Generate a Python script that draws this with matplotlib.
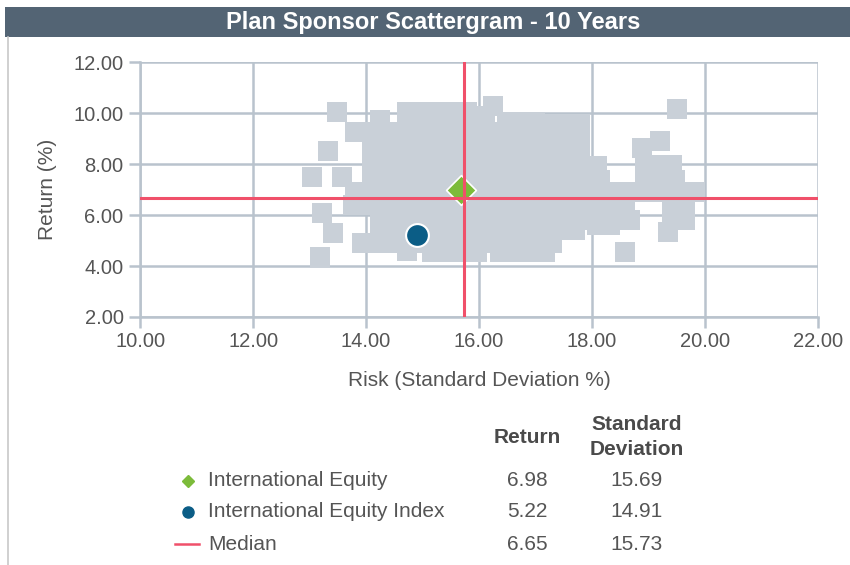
import matplotlib
matplotlib.use("Agg")
import matplotlib.pyplot as plt
from matplotlib.patches import Rectangle
from matplotlib.lines import Line2D

plt.rcParams['font.family'] = ['Liberation Sans', 'DejaVu Sans']

# plan sponsor universe (risk = std dev %, return %)
universe_risk = [
    16.25, 19.50,
    13.49, 14.73, 15.08, 15.43, 15.79, 14.25,
    15.96, 16.11,
    16.50, 16.76, 16.99,
    17.26, 17.52, 17.79,
    13.81, 14.11, 14.37, 14.64, 14.90, 15.17, 15.43, 15.70, 15.96, 16.25,
    16.50, 16.76, 17.03, 17.29, 17.56, 17.79,
    19.20, 18.88,
    14.11, 14.37, 14.64, 14.90, 15.17, 15.43, 15.70, 15.96, 16.25, 16.50,
    16.76, 17.03, 17.29, 17.56, 17.79,
    13.33,
    14.11, 14.37, 14.64, 14.90, 15.17, 15.43, 15.70, 15.96, 16.25, 16.50,
    16.76, 17.03, 17.29, 17.56, 17.79, 18.09, 18.94, 19.20, 19.42,
    13.04, 13.58,
    14.11, 14.37, 14.64, 14.90, 15.17, 15.43, 15.70, 15.96, 16.25, 16.50,
    16.76, 17.03, 17.29, 17.56, 17.79, 18.14, 18.94, 19.20, 19.47,
    13.81, 14.11, 14.37, 14.64, 14.90, 15.17, 15.43, 15.70, 15.96, 16.25,
    16.50, 16.76, 17.03, 17.29, 17.56, 17.79, 18.09, 18.32, 18.58, 18.88,
    19.15, 19.42, 19.65, 19.82,
    13.77, 14.11, 14.37, 14.64, 14.90, 15.17, 15.43, 15.70, 15.96, 16.25,
    16.50, 16.76, 17.03, 17.29, 17.56, 17.79, 18.09, 18.32, 18.58, 19.42, 19.65,
    13.22,
    14.25, 14.51, 14.78, 15.04, 15.31, 15.58, 15.84, 16.11, 16.37, 16.64,
    16.90, 17.17, 17.43, 17.70, 17.96, 18.23, 18.50, 18.67, 19.42, 19.65,
    14.25, 14.51, 14.78, 15.04, 15.31, 15.58, 15.84, 16.11, 16.37, 16.64,
    16.90, 17.17, 17.43, 17.70, 18.09, 18.32, 19.35,
    13.42,
    13.93, 14.11, 14.37, 14.64, 14.90, 15.17, 15.43, 15.70, 15.96, 16.25,
    16.50, 16.76, 17.03, 17.29,
    14.73, 15.17, 15.43, 15.70, 15.96, 16.37, 16.64, 16.90, 17.17, 18.58,
    13.19,
]
universe_ret = [
    10.27, 10.15,
    10.03, 10.03, 10.03, 10.03, 10.03, 9.72,
    9.87, 9.87,
    9.64, 9.64, 9.64,
    9.56, 9.56, 9.56,
    9.24, 9.24, 9.24, 9.24, 9.24, 9.24, 9.24, 9.24, 9.24, 9.24,
    9.24, 9.24, 9.24, 9.24, 9.24, 9.24,
    8.89, 8.65,
    8.57, 8.57, 8.57, 8.57, 8.57, 8.57, 8.57, 8.57, 8.57, 8.57,
    8.57, 8.57, 8.57, 8.57, 8.57,
    8.50,
    7.98, 7.98, 7.98, 7.98, 7.98, 7.98, 7.98, 7.98, 7.98, 7.98,
    7.98, 7.98, 7.98, 7.98, 7.98, 7.91, 7.98, 7.98, 7.98,
    7.51, 7.51,
    7.39, 7.39, 7.39, 7.39, 7.39, 7.39, 7.39, 7.39, 7.39, 7.39,
    7.39, 7.39, 7.39, 7.39, 7.39, 7.39, 7.39, 7.39, 7.39,
    6.92, 6.92, 6.92, 6.92, 6.92, 6.92, 6.92, 6.92, 6.92, 6.92,
    6.92, 6.92, 6.92, 6.92, 6.92, 6.92, 6.92, 6.92, 6.92, 6.92,
    6.92, 6.92, 6.92, 6.92,
    6.41, 6.41, 6.41, 6.41, 6.41, 6.41, 6.41, 6.41, 6.41, 6.41,
    6.41, 6.41, 6.41, 6.41, 6.41, 6.41, 6.41, 6.41, 6.41, 6.41, 6.41,
    6.09,
    5.82, 5.82, 5.82, 5.82, 5.82, 5.82, 5.82, 5.82, 5.82, 5.82,
    5.82, 5.82, 5.82, 5.82, 5.82, 5.82, 5.82, 5.82, 5.82, 5.82,
    5.43, 5.43, 5.43, 5.43, 5.43, 5.43, 5.43, 5.43, 5.43, 5.43,
    5.43, 5.43, 5.43, 5.43, 5.60, 5.60, 5.35,
    5.31,
    4.91, 4.91, 4.91, 4.91, 4.91, 4.91, 4.91, 4.91, 4.91, 4.91,
    4.91, 4.91, 4.91, 4.91,
    4.60, 4.56, 4.56, 4.56, 4.56, 4.56, 4.56, 4.56, 4.56, 4.56,
    4.36,
]

names = ['International Equity', 'International Equity Index', 'Median']
returns = [6.98, 5.22, 6.65]
std_devs = [15.69, 14.91, 15.73]

xticks = [10, 12, 14, 16, 18, 20, 22]
yticks = [2, 4, 6, 8, 10, 12]

grid_col = '#b9c3cd'
red = '#f0506a'
green = '#7cbb3a'
blue = '#0b5d86'
txt = '#555555'

fig = plt.figure(figsize=(8.5, 5.65), dpi=100)

# title bar
fig.patches.append(Rectangle((0.006, 0.934), 1.0, 0.054, transform=fig.transFigure,
                             facecolor='#536474', edgecolor='none'))
fig.text(0.51, 0.960, 'Plan Sponsor Scattergram - 10 Years', color='white',
         fontsize=17, fontweight='bold', ha='center', va='center')
fig.add_artist(Line2D([0.009, 0.009], [0.0, 0.934], color='#c8c8c8', lw=1.2))

ax = fig.add_axes((0.165, 0.439, 0.797, 0.451))
ax.set_xlim(10, 22)
ax.set_ylim(2, 12)
ax.set_xticks(xticks)
ax.set_yticks(yticks)
ax.set_xticklabels(['%.2f' % v for v in xticks])
ax.set_yticklabels(['%.2f' % v for v in yticks])
ax.grid(True, color=grid_col, lw=1.8, zorder=0)
ax.set_axisbelow(True)
for s in ['top', 'right']:
    ax.spines[s].set_visible(False)
for s in ['left', 'bottom']:
    ax.spines[s].set_color(grid_col)
    ax.spines[s].set_linewidth(1.8)
ax.tick_params(colors=grid_col, width=1.8, length=8, labelcolor=txt, labelsize=14.5)
ax.tick_params(axis='x', pad=3)
ax.tick_params(axis='y', pad=4)

ax.scatter(universe_risk, universe_ret, marker='s', s=205, color='#c9d0d8',
           linewidths=0, zorder=2, clip_on=False)
ax.scatter([std_devs[0]], [returns[0]], marker='D', s=230, color=green,
           edgecolors='white', linewidths=1.2, zorder=3)
ax.scatter([std_devs[1]], [returns[1]], marker='o', s=270, color=blue,
           edgecolors='white', linewidths=1.5, zorder=3)
ax.axvline(std_devs[2], color=red, lw=2.2, zorder=4)
ax.axhline(returns[2], color=red, lw=2.2, zorder=4)

ax.set_xlabel('Risk (Standard Deviation %)', fontsize=15, color=txt, labelpad=14)
ax.set_ylabel('Return (%)', fontsize=15, color=txt, labelpad=12)

# legend table
fig.text(0.62, 0.226, 'Return', fontsize=15, fontweight='bold', color='#4a4a4a',
         ha='center', va='center')
fig.text(0.749, 0.226, 'Standard\nDeviation', fontsize=15, fontweight='bold',
         color='#4a4a4a', ha='center', va='center', linespacing=1.4)
row_y = [0.149, 0.094, 0.037]
for i, name in enumerate(names):
    y = row_y[i]
    fig.text(0.245, y, name, fontsize=15, color=txt, ha='left', va='center')
    fig.text(0.62, y, '%.2f' % returns[i], fontsize=15, color=txt, ha='center', va='center')
    fig.text(0.749, y, '%.2f' % std_devs[i], fontsize=15, color=txt, ha='center', va='center')
fig.add_artist(Line2D([0.221], [row_y[0]], marker='D', ms=6, color=green, lw=0))
fig.add_artist(Line2D([0.221], [row_y[1]], marker='o', ms=8, color=blue, lw=0))
fig.add_artist(Line2D([0.206, 0.234], [row_y[2], row_y[2]], color=red, lw=1.8))

fig.savefig('out.png', dpi=100)
